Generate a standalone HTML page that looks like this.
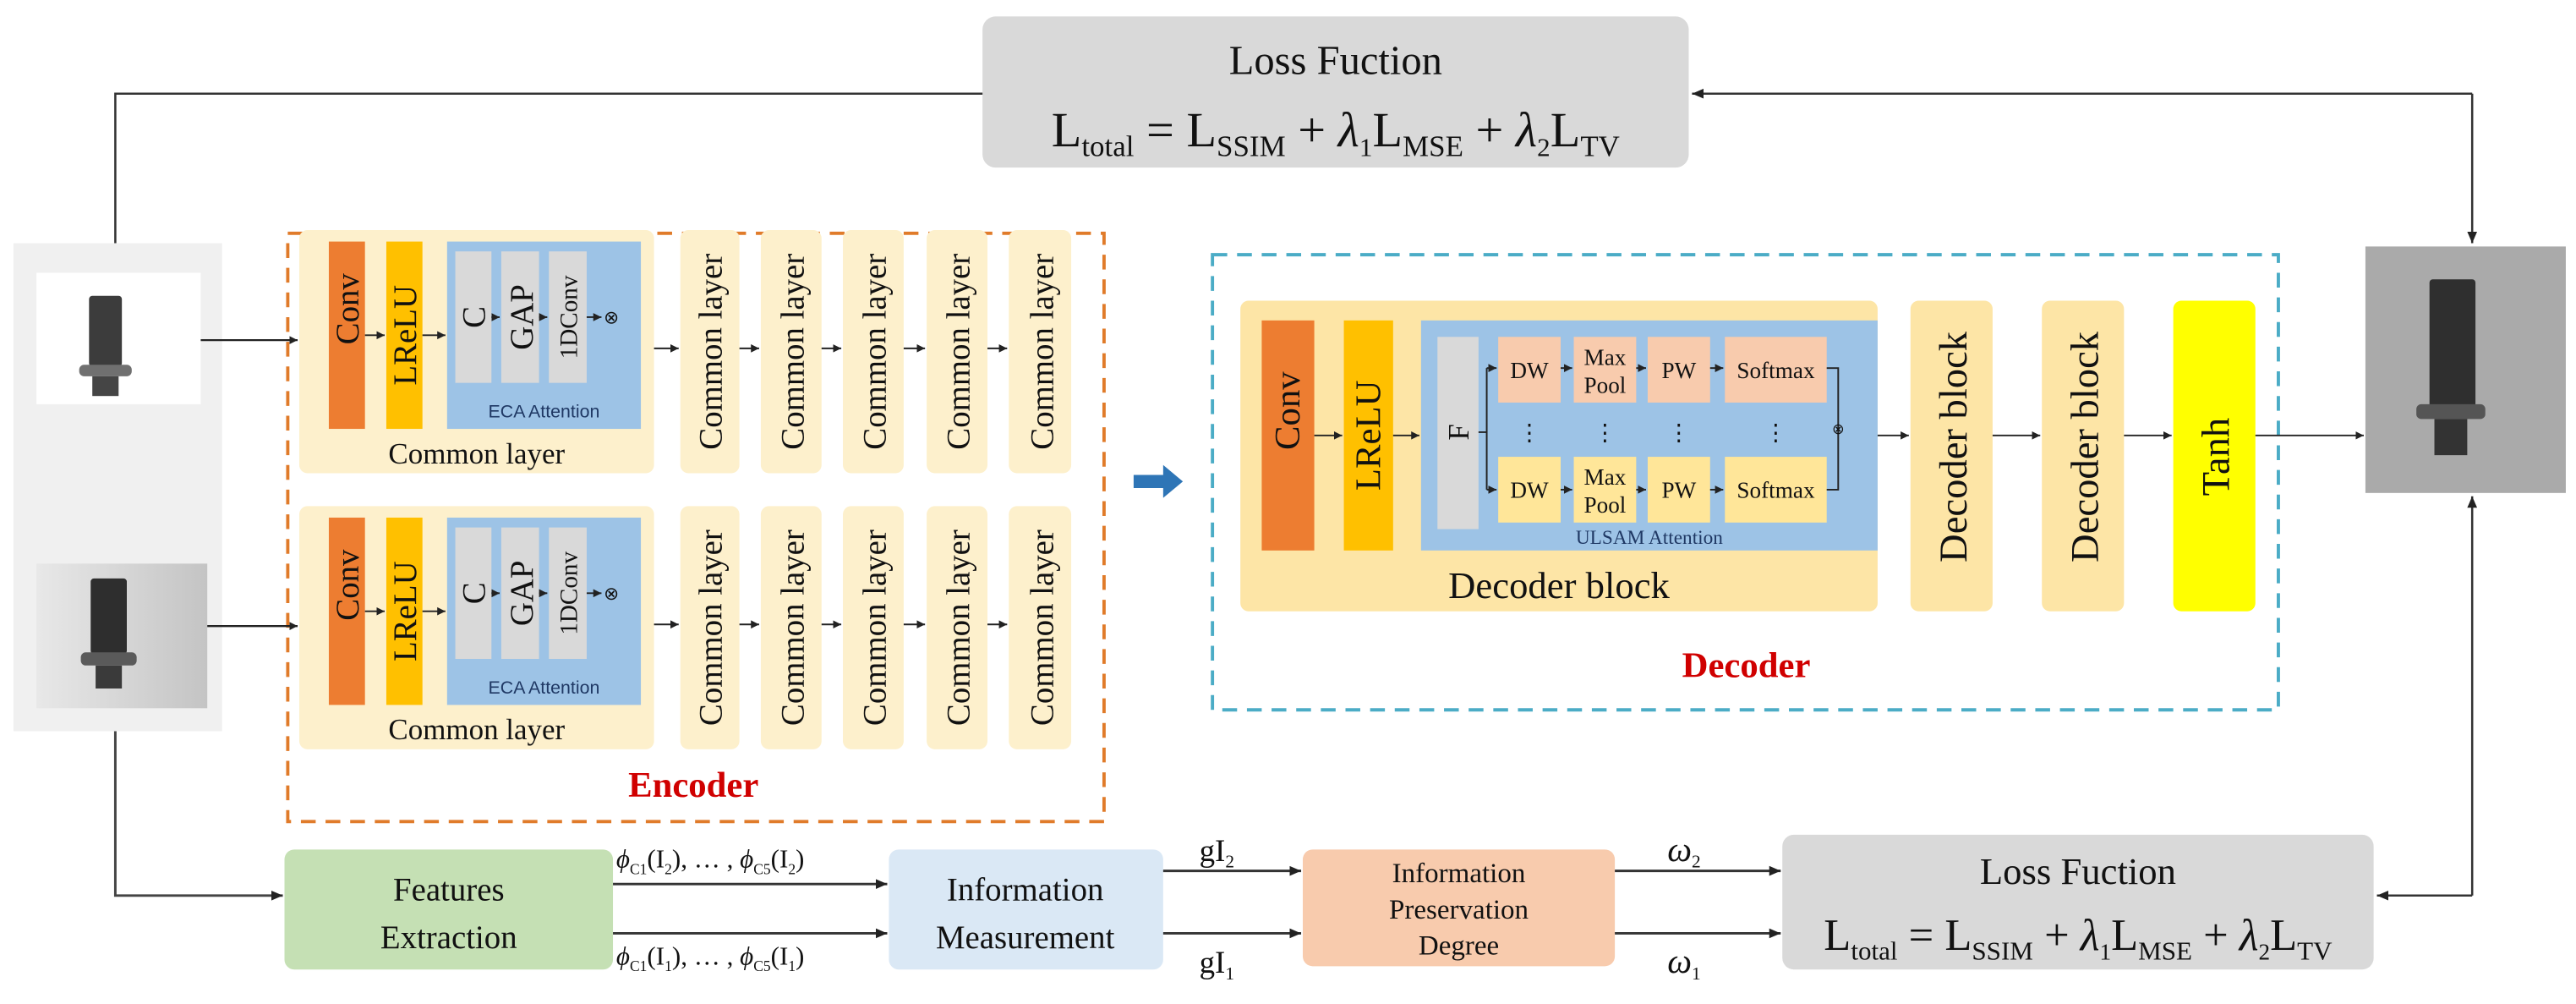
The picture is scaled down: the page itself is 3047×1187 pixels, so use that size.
<!DOCTYPE html>
<html><head><meta charset="utf-8"><style>
html,body{margin:0;padding:0;background:#fff;}
svg{display:block;}
text{font-family:"Liberation Serif",serif;fill:#111;}
.s{font-family:"Liberation Sans",sans-serif;}
</style></head><body>
<svg width="3047" height="1187" viewBox="0 0 1568 611" xmlns="http://www.w3.org/2000/svg">
<defs>
<marker id="a" markerWidth="8" markerHeight="8" refX="7" refY="4" orient="auto" markerUnits="userSpaceOnUse"><path d="M0,1 L7,4 L0,7 z" fill="#222"/></marker>
<marker id="b" markerWidth="6" markerHeight="6" refX="5" refY="3" orient="auto" markerUnits="userSpaceOnUse"><path d="M0,0.5 L5,3 L0,5.5 z" fill="#222"/></marker>
<linearGradient id="g1" x1="0" y1="0" x2="1" y2="0"><stop offset="0" stop-color="#e8e8e8"/><stop offset="1" stop-color="#c4c4c4"/></linearGradient>
</defs>

<rect x="598" y="10" width="430" height="92" rx="8" fill="#d9d9d9"/>
<text x="813" y="45" font-size="25" text-anchor="middle">Loss  Fuction</text>
<text x="813" y="89" font-size="30" text-anchor="middle">L<tspan font-size="18" dy="6">total</tspan><tspan dy="-6"> = L</tspan><tspan font-size="18" dy="6">SSIM</tspan><tspan dy="-6"> + </tspan><tspan font-style="italic">λ</tspan><tspan font-size="16" dy="6">1</tspan><tspan dy="-6">L</tspan><tspan font-size="18" dy="6">MSE</tspan><tspan dy="-6"> + </tspan><tspan font-style="italic">λ</tspan><tspan font-size="16" dy="6">2</tspan><tspan dy="-6">L</tspan><tspan font-size="18" dy="6">TV</tspan></text>

<path d="M70 148 V57 H598" fill="none" stroke="#333" stroke-width="1.3"/>
<path d="M1505 57 H1030" fill="none" stroke="#333" stroke-width="1.3" marker-end="url(#a)"/>
<path d="M1505 57 V148" fill="none" stroke="#333" stroke-width="1.3" marker-end="url(#a)"/>

<rect x="8" y="148" width="127" height="297" fill="#f0f0f0"/>
<rect x="22" y="166" width="100" height="80" fill="#fff"/>
<rect x="54" y="180" width="20" height="43" rx="2" fill="#3c3c3c"/>
<rect x="48" y="222" width="32" height="7" rx="3" fill="#707070"/>
<rect x="56" y="229" width="16" height="12" fill="#454545"/>
<rect x="22" y="343" width="104" height="88" fill="url(#g1)"/>
<rect x="55" y="352" width="22" height="46" rx="2" fill="#2e2e2e"/>
<rect x="49" y="397" width="34" height="8" rx="3" fill="#5a5a5a"/>
<rect x="58" y="405" width="16" height="14" fill="#3a3a3a"/>

<rect x="1440" y="150" width="122" height="150" fill="#aaaaaa"/>
<rect x="1479" y="170" width="28" height="78" rx="2" fill="#2f2f2f"/>
<rect x="1471" y="246" width="42" height="9" rx="3" fill="#555"/>
<rect x="1482" y="255" width="20" height="22" fill="#333"/>

<rect x="175" y="142" width="497" height="358" fill="none" stroke="#e07b2a" stroke-width="2" stroke-dasharray="9,6"/>
<text x="422" y="485" font-size="22" font-weight="bold" text-anchor="middle" style="fill:#d00000">Encoder</text>

<g id="row1">
<rect x="182" y="140" width="216" height="148" rx="5" fill="#fdf0cc"/>
<rect x="200" y="147" width="22" height="114" fill="#ed7d31"/>
<text transform="translate(218,188) rotate(-90)" font-size="20" text-anchor="middle">Conv</text>
<rect x="235" y="147" width="22" height="114" fill="#ffc000"/>
<text transform="translate(253,204) rotate(-90)" font-size="20" text-anchor="middle">LReLU</text>
<path d="M222 204 H234" stroke="#222" stroke-width="1" marker-end="url(#b)"/>
<path d="M257 204 H271" stroke="#222" stroke-width="1" marker-end="url(#b)"/>
<rect x="272" y="147" width="118" height="114" fill="#9dc3e6"/>
<rect x="277" y="153" width="22" height="80" fill="#d9d9d9"/>
<rect x="305" y="153" width="23" height="80" fill="#d9d9d9"/>
<rect x="334" y="153" width="23" height="80" fill="#d9d9d9"/>
<text transform="translate(295,193) rotate(-90)" font-size="20" text-anchor="middle">C</text>
<text transform="translate(324,193) rotate(-90)" font-size="20" text-anchor="middle">GAP</text>
<text transform="translate(351,193) rotate(-90)" font-size="15" text-anchor="middle">1DConv</text>
<path d="M299 193 H304" stroke="#222" stroke-width="1" marker-end="url(#b)"/>
<path d="M328 193 H333" stroke="#222" stroke-width="1" marker-end="url(#b)"/>
<path d="M357 193 H366" stroke="#222" stroke-width="1" marker-end="url(#b)"/>
<text x="372" y="197" font-size="11" text-anchor="middle">⊗</text>
<text x="331" y="254" font-size="11" class="s" text-anchor="middle" style="fill:#1f3864">ECA Attention</text>
<text x="290" y="282" font-size="18" text-anchor="middle">Common layer</text>
<g font-size="20">
<rect x="414" y="140" width="36" height="148" rx="5" fill="#fdf0cc"/>
<text transform="translate(439,214) rotate(-90)" text-anchor="middle">Common layer</text>
<rect x="463" y="140" width="37" height="148" rx="5" fill="#fdf0cc"/>
<text transform="translate(489,214) rotate(-90)" text-anchor="middle">Common layer</text>
<rect x="513" y="140" width="37" height="148" rx="5" fill="#fdf0cc"/>
<text transform="translate(539,214) rotate(-90)" text-anchor="middle">Common layer</text>
<rect x="564" y="140" width="37" height="148" rx="5" fill="#fdf0cc"/>
<text transform="translate(590,214) rotate(-90)" text-anchor="middle">Common layer</text>
<rect x="614" y="140" width="38" height="148" rx="5" fill="#fdf0cc"/>
<text transform="translate(641,214) rotate(-90)" text-anchor="middle">Common layer</text>
</g>
<path d="M398 212 H413" stroke="#222" stroke-width="1" marker-end="url(#b)"/>
<path d="M450 212 H462" stroke="#222" stroke-width="1" marker-end="url(#b)"/>
<path d="M500 212 H512" stroke="#222" stroke-width="1" marker-end="url(#b)"/>
<path d="M550 212 H563" stroke="#222" stroke-width="1" marker-end="url(#b)"/>
<path d="M601 212 H613" stroke="#222" stroke-width="1" marker-end="url(#b)"/>
</g>
<use href="#row1" y="168"/>
<path d="M122 207 H181" stroke="#222" stroke-width="1.2" marker-end="url(#b)"/>
<path d="M126 381 H181" stroke="#222" stroke-width="1.2" marker-end="url(#b)"/>

<path d="M690 289 H708 V283 L720 293 L708 303 V297 H690 z" fill="#2e75b6"/>

<rect x="738" y="155" width="649" height="277" fill="none" stroke="#4bacc6" stroke-width="2" stroke-dasharray="9,6"/>
<text x="1063" y="412" font-size="22" font-weight="bold" text-anchor="middle" style="fill:#d00000">Decoder</text>
<rect x="755" y="183" width="388" height="189" rx="5" fill="#fde5a6"/>
<rect x="768" y="195" width="32" height="140" fill="#ed7d31"/>
<text transform="translate(791,250) rotate(-90)" font-size="22" text-anchor="middle">Conv</text>
<rect x="818" y="195" width="30" height="140" fill="#ffc000"/>
<text transform="translate(840,265) rotate(-90)" font-size="22" text-anchor="middle">LReLU</text>
<path d="M800 265 H817" stroke="#222" stroke-width="1" marker-end="url(#b)"/>
<path d="M848 265 H864" stroke="#222" stroke-width="1" marker-end="url(#b)"/>
<rect x="865" y="195" width="278" height="140" fill="#9dc3e6"/>
<rect x="875" y="205" width="25" height="117" fill="#d9d9d9"/>
<text transform="translate(894,263) rotate(-90)" font-size="18" text-anchor="middle">F</text>
<path d="M900 263 H905 M905 224 V298" stroke="#222" stroke-width="1" fill="none"/>
<path d="M905 224 H911" stroke="#222" stroke-width="1" marker-end="url(#b)"/>
<path d="M905 298 H911" stroke="#222" stroke-width="1" marker-end="url(#b)"/>
<g font-size="14" text-anchor="middle">
<rect x="912" y="205" width="38" height="40" fill="#f8cbad"/><text x="931" y="230">DW</text>
<rect x="958" y="205" width="38" height="40" fill="#f8cbad"/><text x="977" y="222">Max</text><text x="977" y="239">Pool</text>
<rect x="1003" y="205" width="38" height="40" fill="#f8cbad"/><text x="1022" y="230">PW</text>
<rect x="1050" y="205" width="62" height="40" fill="#f8cbad"/><text x="1081" y="230">Softmax</text>
<rect x="912" y="278" width="38" height="40" fill="#ffe699"/><text x="931" y="303">DW</text>
<rect x="958" y="278" width="38" height="40" fill="#ffe699"/><text x="977" y="295">Max</text><text x="977" y="312">Pool</text>
<rect x="1003" y="278" width="38" height="40" fill="#ffe699"/><text x="1022" y="303">PW</text>
<rect x="1050" y="278" width="62" height="40" fill="#ffe699"/><text x="1081" y="303">Softmax</text>
<text x="931" y="268" font-size="14">⋮</text><text x="977" y="268" font-size="14">⋮</text><text x="1022" y="268" font-size="14">⋮</text><text x="1081" y="268" font-size="14">⋮</text>
</g>
<g stroke="#222" stroke-width="1" fill="none">
<path d="M950 224 H957" marker-end="url(#b)"/><path d="M996 224 H1002" marker-end="url(#b)"/><path d="M1041 224 H1049" marker-end="url(#b)"/>
<path d="M950 298 H957" marker-end="url(#b)"/><path d="M996 298 H1002" marker-end="url(#b)"/><path d="M1041 298 H1049" marker-end="url(#b)"/>
<path d="M1112 224 H1119 V298 H1112"/>
</g>
<text x="1119" y="264" font-size="9" text-anchor="middle">⊗</text>
<text x="1004" y="331" font-size="12" text-anchor="middle" style="fill:#1f3864">ULSAM Attention</text>
<text x="949" y="364" font-size="23" text-anchor="middle">Decoder block</text>
<rect x="1163" y="183" width="50" height="189" rx="5" fill="#fde5a6"/>
<text transform="translate(1197,272) rotate(-90)" font-size="24" text-anchor="middle">Decoder block</text>
<rect x="1243" y="183" width="50" height="189" rx="5" fill="#fde5a6"/>
<text transform="translate(1277,272) rotate(-90)" font-size="24" text-anchor="middle">Decoder block</text>
<rect x="1323" y="183" width="50" height="189" rx="5" fill="#ffff00"/>
<text transform="translate(1357,278) rotate(-90)" font-size="24" text-anchor="middle">Tanh</text>
<path d="M1143 265 H1162" stroke="#222" stroke-width="1" marker-end="url(#b)"/>
<path d="M1213 265 H1242" stroke="#222" stroke-width="1" marker-end="url(#b)"/>
<path d="M1293 265 H1322" stroke="#222" stroke-width="1" marker-end="url(#b)"/>
<path d="M1373 265 H1439" stroke="#222" stroke-width="1" marker-end="url(#b)"/>

<path d="M70 445 V545 H172" fill="none" stroke="#444" stroke-width="1.5" marker-end="url(#a)"/>
<path d="M1505 545 H1447" fill="none" stroke="#333" stroke-width="1.3" marker-end="url(#a)"/>
<path d="M1505 545 V302" fill="none" stroke="#333" stroke-width="1.3" marker-end="url(#a)"/>

<rect x="173" y="517" width="200" height="73" rx="6" fill="#c5e0b4"/>
<text x="273" y="548" font-size="20" text-anchor="middle">Features</text>
<text x="273" y="577" font-size="20" text-anchor="middle">Extraction</text>
<rect x="541" y="517" width="167" height="73" rx="6" fill="#dae8f5"/>
<text x="624" y="548" font-size="20" text-anchor="middle">Information</text>
<text x="624" y="577" font-size="20" text-anchor="middle">Measurement</text>
<rect x="793" y="517" width="190" height="71" rx="6" fill="#f8cbad"/>
<text x="888" y="537" font-size="17" text-anchor="middle">Information</text>
<text x="888" y="559" font-size="17" text-anchor="middle">Preservation</text>
<text x="888" y="581" font-size="17" text-anchor="middle">Degree</text>
<rect x="1085" y="508" width="360" height="82" rx="7" fill="#d9d9d9"/>
<text x="1265" y="538" font-size="23" text-anchor="middle">Loss  Fuction</text>
<text x="1265" y="578" font-size="27" text-anchor="middle">L<tspan font-size="16" dy="6">total</tspan><tspan dy="-6"> = L</tspan><tspan font-size="16" dy="6">SSIM</tspan><tspan dy="-6"> + </tspan><tspan font-style="italic">λ</tspan><tspan font-size="14" dy="6">1</tspan><tspan dy="-6">L</tspan><tspan font-size="16" dy="6">MSE</tspan><tspan dy="-6"> + </tspan><tspan font-style="italic">λ</tspan><tspan font-size="14" dy="6">2</tspan><tspan dy="-6">L</tspan><tspan font-size="16" dy="6">TV</tspan></text>

<g stroke="#333" stroke-width="1.5" fill="none">
<path d="M373 538 H540" marker-end="url(#a)"/>
<path d="M373 568 H540" marker-end="url(#a)"/>
<path d="M708 530 H792" marker-end="url(#a)"/>
<path d="M708 568 H792" marker-end="url(#a)"/>
<path d="M983 530 H1084" marker-end="url(#a)"/>
<path d="M983 568 H1084" marker-end="url(#a)"/>
</g>
<g font-size="16">
<text x="375" y="528"><tspan font-style="italic">ϕ</tspan><tspan font-size="9" dy="4">C1</tspan><tspan dy="-4">(I</tspan><tspan font-size="9" dy="4">2</tspan><tspan dy="-4">),  … ,  </tspan><tspan font-style="italic">ϕ</tspan><tspan font-size="9" dy="4">C5</tspan><tspan dy="-4">(I</tspan><tspan font-size="9" dy="4">2</tspan><tspan dy="-4">)</tspan></text>
<text x="375" y="587"><tspan font-style="italic">ϕ</tspan><tspan font-size="9" dy="4">C1</tspan><tspan dy="-4">(I</tspan><tspan font-size="9" dy="4">1</tspan><tspan dy="-4">),  … ,  </tspan><tspan font-style="italic">ϕ</tspan><tspan font-size="9" dy="4">C5</tspan><tspan dy="-4">(I</tspan><tspan font-size="9" dy="4">1</tspan><tspan dy="-4">)</tspan></text>
</g>
<text x="730" y="524" font-size="19">gI<tspan font-size="11" dy="4">2</tspan></text>
<text x="730" y="592" font-size="19">gI<tspan font-size="11" dy="4">1</tspan></text>
<text x="1015" y="524" font-size="21" font-style="italic">ω<tspan font-size="11" dy="4" font-style="normal">2</tspan></text>
<text x="1015" y="592" font-size="21" font-style="italic">ω<tspan font-size="11" dy="4" font-style="normal">1</tspan></text>
</svg>
</body></html>
